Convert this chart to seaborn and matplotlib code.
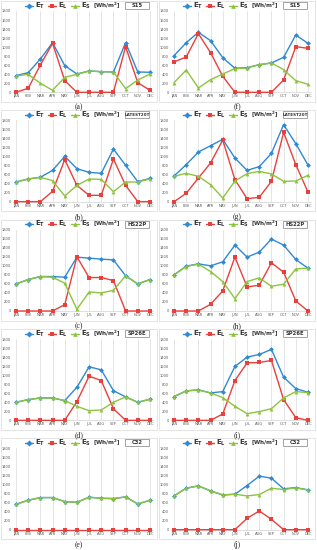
import numpy as np
import pandas as pd
import matplotlib
matplotlib.use("Agg")
import matplotlib.pyplot as plt
import seaborn as sns
from matplotlib.lines import Line2D
from matplotlib.patches import Rectangle

months = ["JAN", "FEB", "MAR", "APR", "MAY", "JUN", "JUL", "AUG", "SEP", "OCT", "NOV", "DEC"]
names = ["S15", "LATEST20T", "HS22P", "SP26E", "C32"]

# left column (a)-(e)
et_left = [
    [370, 435, 738, 1100, 590, 405, 472, 457, 450, 1100, 450, 443],
    [435, 502, 539, 693, 1003, 730, 649, 627, 1166, 804, 443, 516],
    [600, 696, 763, 763, 748, 1193, 1170, 1148, 1133, 778, 600, 696],
    [400, 459, 496, 496, 437, 733, 1185, 1119, 659, 519, 400, 467],
    [563, 652, 711, 711, 622, 607, 719, 696, 689, 726, 570, 652],
]
el_left = [
    [0, 90, 605, 1085, 258, 0, 0, 0, 0, 1010, 214, 44],
    [0, 0, 0, 229, 930, 361, 140, 140, 944, 361, 0, 0],
    [0, 0, 0, 0, 141, 1200, 741, 741, 674, 0, 0, 0],
    [0, 0, 0, 0, 0, 415, 978, 881, 259, 0, 0, 0],
    [0, 0, 0, 0, 0, 0, 0, 0, 0, 0, 0, 0],
]
es_left = [
    [362, 398, 200, 44, 332, 398, 472, 457, 450, 81, 273, 405],
    [435, 502, 539, 465, 125, 361, 502, 494, 221, 435, 435, 502],
    [600, 696, 763, 748, 615, 37, 422, 400, 459, 778, 600, 696],
    [400, 459, 496, 496, 437, 311, 215, 230, 400, 519, 400, 467],
    [563, 652, 711, 711, 622, 607, 719, 696, 689, 726, 570, 652],
]

# right column (f)-(j)
et_right = [
    [811, 1099, 1328, 1143, 767, 531, 546, 612, 649, 775, 1269, 1084],
    [568, 819, 1099, 1239, 1380, 966, 693, 775, 1070, 1704, 1284, 811],
    [800, 993, 1044, 1000, 1089, 1459, 1193, 1304, 1593, 1459, 1141, 948],
    [526, 652, 674, 607, 637, 1193, 1400, 1459, 1570, 956, 704, 622],
    [748, 919, 970, 859, 770, 785, 978, 1185, 1141, 904, 933, 881],
]
el_right = [
    [671, 782, 1298, 878, 354, 0, 0, 0, 0, 273, 1010, 974],
    [0, 184, 524, 856, 1365, 487, 66, 96, 450, 1534, 819, 214],
    [0, 0, 0, 148, 444, 1193, 533, 570, 1067, 859, 222, 0],
    [0, 0, 0, 0, 141, 881, 1274, 1281, 1326, 459, 59, 0],
    [0, 0, 0, 0, 0, 0, 252, 415, 230, 0, 0, 0],
]
es_right = [
    [214, 494, 96, 280, 405, 524, 538, 612, 649, 502, 258, 177],
    [561, 627, 561, 376, 81, 457, 620, 671, 612, 450, 457, 583],
    [800, 985, 1037, 874, 652, 274, 652, 733, 548, 593, 933, 948],
    [526, 652, 674, 607, 504, 311, 148, 193, 259, 496, 637, 615],
    [748, 919, 970, 859, 770, 785, 748, 778, 919, 889, 926, 881],
]

labels_left = ["(a)", "(b)", "(c)", "(d)", "(e)"]
labels_right = ["(f)", "(g)", "(h)", "(i)", "(j)"]

blue = "#2F8AD3"
red = "#E8403D"
green = "#8DC43F"
grid_c = "#D9D9D9"
txt_c = "#595959"

sns.set_style("white")
plt.rcParams["font.family"] = ["DejaVu Sans"]

W, H = 317, 550
fig = plt.figure(figsize=(W / 100, H / 100), dpi=100)

x = np.arange(12)
styles = [("E$_\\mathbf{T}$", blue, "D", 2.5), ("E$_\\mathbf{L}$", red, "s", 2.5), ("E$_\\mathbf{S}$", green, "^", 2.8)]


def draw_panel(col, r, et, el, es, name, tag):
    x0 = 13 if col == 0 else 171
    x1 = 153 if col == 0 else 311
    top = 11 + 109.35 * r
    bot = 92.3 + 109.35 * r
    ax = fig.add_axes([x0 / W, 1 - bot / H, (x1 - x0) / W, (bot - top) / H])
    for (lab, c, m, ms), vals in zip(styles, [et, el, es]):
        df = pd.DataFrame({"m": x, "v": vals})
        sns.lineplot(data=df, x="m", y="v", ax=ax, color=c, marker=m, markersize=ms,
                     markeredgewidth=0, linewidth=1.0, sort=False, clip_on=False, zorder=3)
    ax.set_xlim(-0.25, 11.25)
    ax.set_ylim(0, 1800)
    ax.set_yticks(np.arange(0, 1801, 200))
    ax.set_yticklabels([str(v) for v in range(0, 1801, 200)], fontsize=2.6, color=txt_c)
    ax.set_xticks(x)
    ax.set_xticklabels(months, fontsize=2.6, color=txt_c)
    ax.tick_params(length=0, pad=1.5)
    ax.set_xlabel("")
    ax.set_ylabel("")
    ax.grid(axis="x", color=grid_c, linewidth=0.5)
    ax.grid(axis="y", visible=False)
    for s in ["top", "right", "left"]:
        ax.spines[s].set_visible(False)
    ax.spines["bottom"].set_color(grid_c)
    ax.spines["bottom"].set_linewidth(0.6)

    # chart border
    bx0 = x0 - 12
    fig.add_artist(Rectangle((bx0 / W, 1 - (102 + 109.35 * r) / H), 156 / W, 101 / H,
                             transform=fig.transFigure, fill=False, ec=grid_c, lw=0.5))
    # legend
    ly = 1 - (5.5 + 109.35 * r) / H
    for (lab, c, m, ms), lx in zip(styles, [29, 52, 75]):
        px = (bx0 - 1 + lx) / W
        fig.add_artist(Line2D([px - 4 / W, px, px + 4 / W], [ly, ly, ly], transform=fig.transFigure,
                              color=c, lw=1.0, marker=m, markersize=ms + 0.6, markevery=[1],
                              markeredgewidth=0))
        fig.text(px + 6 / W, ly, lab, fontsize=5, color="#333333", va="center", ha="left",
                 fontweight="bold")
    fig.text((bx0 - 1 + 93) / W, ly, "[Wh/m$^\\mathbf{2}$]", fontsize=4.1, color="#333333",
             va="center", ha="left", fontweight="bold")
    # boxed name label, fixed-size box
    fig.add_artist(Rectangle(((bx0 - 1 + 125) / W, ly - 3.5 / H), 24 / W, 7 / H,
                             transform=fig.transFigure, fc="white", ec="#7F7F7F", lw=0.5))
    fig.text((bx0 - 1 + 137) / W, ly, name, fontsize=3.0 if len(name) > 5 else 3.8,
             color="#333333", va="center", ha="center", fontweight="bold")
    # panel tag
    fig.text((bx0 + 78) / W, 1 - (107.5 + 109.35 * r) / H, tag, fontsize=5.5, color="#222222",
             va="center", ha="center", family="Liberation Serif")


for r in range(5):
    draw_panel(0, r, et_left[r], el_left[r], es_left[r], names[r], labels_left[r])
    draw_panel(1, r, et_right[r], el_right[r], es_right[r], names[r], labels_right[r])

fig.savefig("out.png", dpi=100, facecolor="white")
